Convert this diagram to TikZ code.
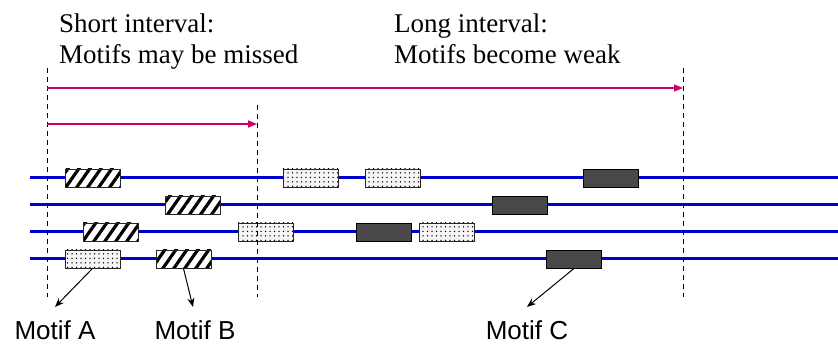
\documentclass[tikz,border=0pt]{standalone}
\usepackage{fontspec}
\setmainfont{Liberation Serif}
\newfontfamily\labfont{Liberation Sans}
\usetikzlibrary{arrows.meta,patterns.meta}
\definecolor{Track}{RGB}{0,0,204}
\definecolor{Span}{RGB}{204,0,102}
\definecolor{Dark}{RGB}{72,72,72}

\begin{document}
\begin{tikzpicture}[x=1pt,y=-1pt,
 box/.style={draw=black!85,line width=.9pt,minimum width=55pt,minimum height=18pt,inner sep=0pt},
 hb/.style={box,preaction={fill=white},pattern={Lines[angle=55,distance=9pt,line width=3.2pt]}},
 db/.style={box,preaction={fill=black!4},pattern={Dots[distance=4.5pt,radius=.75pt]}},
 kb/.style={box,fill=Dark,draw=black},
 track/.style={line width=3pt,Track},
 guide/.style={line width=.8pt,dash pattern=on 5pt off 4pt},
 sp/.style={-{Triangle[length=9pt,width=7pt]},line width=1.5pt,Span},
 pa/.style={-{Stealth[length=9pt,width=7pt]},line width=1pt},
 note/.style={font=\fontsize{27}{31}\selectfont,align=left,anchor=north west,inner sep=0pt},
 lab/.style={font=\labfont\fontsize{26}{29}\selectfont,inner xsep=0pt,inner ysep=14pt,anchor=base}]
\useasboundingbox (0,0) rectangle (838,344);

% captions
\node[note] (short) at (59,14) {Short interval:\\Motifs may be missed};
\node[note] (long) at (394,14) {Long interval:\\Motifs become weak};

% sequences
\coordinate (r1) at (30,178); \coordinate (e1) at (838,178);
\coordinate (r2) at (30,205); \coordinate (e2) at (838,205);
\coordinate (r3) at (30,232); \coordinate (e3) at (838,232);
\coordinate (r4) at (30,259); \coordinate (e4) at (838,259);
\draw[track] (r1)--(e1);\draw[track] (r2)--(e2);\draw[track] (r3)--(e3);\draw[track] (r4)--(e4);

% motif occurrences
\node[hb] (h11) at (92.5,178) {};
\node[db] (d11) at (310.5,178) {};
\node[db] (d12) at (392.5,178) {};
\node[kb] (k11) at (610.5,178) {};
\node[hb] (h21) at (192.5,205) {};
\node[kb] (k21) at (519.5,205) {};
\node[hb] (h31) at (110.5,232) {};
\node[db] (d31) at (265.5,232) {};
\node[kb] (k31) at (383.5,232) {};
\node[db] (d32) at (446.5,232) {};
\node[db] (d41) at (92.5,259) {};
\node[hb] (h42) at (183.5,259) {};
\node[kb] (k43) at (574,259) {};

% window borders
\coordinate (w0) at (47,68);  \coordinate (w0b) at (47,297);
\coordinate (w1) at (257,105); \coordinate (w1b) at (257,297);
\coordinate (w2) at (683,68); \coordinate (w2b) at (683,297);
\draw[guide] (w0)--(w0b);\draw[guide] (w1)--(w1b);\draw[guide] (w2)--(w2b);

% intervals
\coordinate (ls) at (47,88);  \coordinate (le) at (683,88);
\coordinate (ss) at (47,124); \coordinate (se) at (257,124);
\draw[sp] (ls)--(le);
\draw[sp] (ss)--(se);

% labels
\node[lab] (mA) at (55,340) {Motif A};
\node[lab] (mB) at (195,340) {Motif B};
\node[lab] (mC) at (527,340) {Motif C};
\draw[pa] (d41.south)--(mA.north);
\draw[pa] (h42.south)--([xshift=-2pt]mB.north);
\draw[pa] (k43.south)--(mC.north);
\end{tikzpicture}
\end{document}
